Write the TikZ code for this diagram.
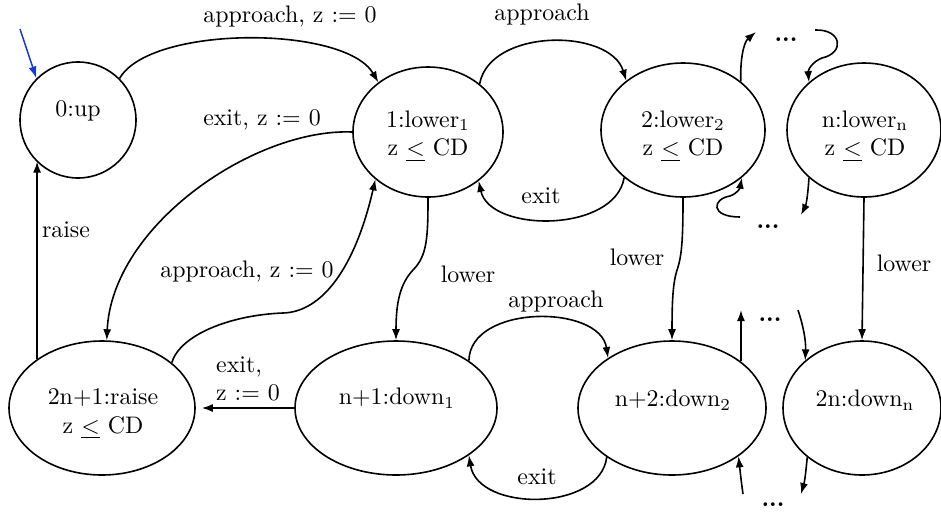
\documentclass[tikz,border=0pt]{standalone}
\usetikzlibrary{shapes.geometric,arrows.meta}
\begin{document}
\begin{tikzpicture}[x=1pt,y=-1pt]
\tikzset{
  state/.style={draw, ellipse, line width=1.6pt, inner sep=0pt},
  txt/.style={scale=2.39, inner sep=0pt, align=center, font=\fontsize{10}{12}\selectfont},
  edge/.style={line width=1.6pt, -{Latex[length=11pt,width=8pt]}},
  initedge/.style={line width=1.5pt, color=initblue, -{Latex[length=12pt,width=8pt]}}
}
\definecolor{initblue}{RGB}{20,60,210}
\useasboundingbox (0,0) rectangle (941,512);
% states
\node[state, circle, minimum size=116pt] (up) at (78,120) {};
\node[state, minimum width=150pt, minimum height=130pt] (n1) at (428,132) {};
\node[state, minimum width=164pt, minimum height=134pt] (n2) at (683,130) {};
\node[state, minimum width=154pt, minimum height=134pt] (nn) at (864,130) {};
\node[state, minimum width=186pt, minimum height=134pt] (r) at (102,408) {};
\node[state, minimum width=202pt, minimum height=134pt] (d1) at (396,408) {};
\node[state, minimum width=188pt, minimum height=134pt] (d2) at (672,408) {};
\node[state, minimum width=158pt, minimum height=134pt] (dn) at (862,408) {};
% state texts
\node[txt] (upt) at (78,111) {0:up};
\node[txt] (n1t) at (428,136) {1:lower\textsubscript{1}\\z \underline{$<$} CD};
\node[txt] (n2t) at (683,136) {2:lower\textsubscript{2}\\z \underline{$<$} CD};
\node[txt] (nnt) at (865,136) {n:lower\textsubscript{n}\\z \underline{$<$} CD};
\node[txt] (rt) at (103,414) {2n+1:raise\\z \underline{$<$} CD};
\node[txt] (d1t) at (397,398) {n+1:down\textsubscript{1}};
\node[txt] (d2t) at (673,400) {n+2:down\textsubscript{2}};
\node[txt] (dnt) at (865,400) {2n:down\textsubscript{n}};
% initial
\coordinate (init) at (20,29);
\draw[initedge] (init) -- (up.135);
% edges
\draw[edge] (up.45) .. controls (150,25) and (345,25) .. (n1.135);
\node[txt] (l1) at (290,17) {approach, z := 0};
\draw[edge] (n1.180) .. controls (255,128) and (112,225) .. (r.86);
\node[txt] (l2) at (262,120) {exit, z := 0};
\coordinate (s1) at (283,313);
\draw[edge] (r.33) .. controls (180,335) and (230,315) .. (s1) .. controls (322,312) and (355,268) .. (n1.222);
\node[txt] (l3) at (247,272) {approach, z := 0};
\draw[edge] (r.143.6) -- (r.143.6 |- up.225);
\node[txt] (l4) at (66,230) {raise};
\coordinate (w1) at (413,270);
\draw[edge] (n1.south) .. controls (428,238) and (427,256) .. (w1) .. controls (401,283) and (396,300) .. (d1.north);
\node[txt] (l5) at (468,274) {lower};
\draw[edge] (n1.43) .. controls (490,28) and (610,28) .. (n2.139);
\node[txt] (l6) at (542,15) {approach};
\draw[edge] (n2.219) .. controls (615,233) and (490,233) .. (n1.316);
\node[txt] (l7) at (541,196) {exit};
\coordinate (w2) at (677,270);
\draw[edge] (n2.south) .. controls (683,238) and (682,256) .. (w2) .. controls (673,283) and (672,300) .. (d2.north);
\node[txt] (l8) at (637,257) {lower};
\draw[edge] (nn.south) -- (dn.north);
\node[txt] (l9) at (904,263) {lower};
\draw[edge] (d1.33.7) .. controls (470,304) and (600,304) .. (d2.142.4);
\node[txt] (l10) at (556,302) {approach};
\draw[edge] (d2.217) .. controls (600,512) and (478,512) .. (d1.327);
\node[txt] (l11) at (537,477) {exit};
\draw[edge, shorten >=6pt] (d1.west) -- (r.east);
\node[txt, align=left] (l12) at (248,379) {exit,\\z := 0};
% dots
\node[txt] (dots1) at (786,40) {\textbf{...}};
\node[txt] (dots2) at (768,227) {\textbf{...}};
\node[txt] (dots3) at (770,320) {\textbf{...}};
\node[txt] (dots4) at (773,505) {\textbf{...}};
% stubs
\coordinate (a1) at (756,32);
\draw[edge] (n2.40) .. controls (740,58) and (744,42) .. (a1);
\coordinate (a2) at (815,30);
\coordinate (a2m) at (822,58);
\draw[edge] (a2) .. controls (842,29) and (845,53) .. (a2m) .. controls (812,62) and (808,70) .. (nn.139);
\coordinate (a3) at (740,217);
\coordinate (a3m) at (730,196);
\draw[edge] (a3) .. controls (710,217) and (712,199) .. (a3m) .. controls (738,193) and (740,188) .. (n2.321);
\coordinate (a4) at (801,215);
\draw[edge] (nn.221) .. controls (808,195) and (806,205) .. (a4);
\coordinate (a5) at (740,310);
\draw[edge] (d2.34.5) -- (d2.34.5 |- a5);
\coordinate (a6) at (798,310);
\draw[edge] (a6) .. controls (803,325) and (806,340) .. (dn.140);
\coordinate (a7) at (743,494);
\draw[edge] (a7) .. controls (741,480) and (740,470) .. (d2.324);
\coordinate (a8) at (801,494);
\draw[edge] (dn.222) .. controls (806,470) and (805,480) .. (a8);
\end{tikzpicture}
\end{document}
